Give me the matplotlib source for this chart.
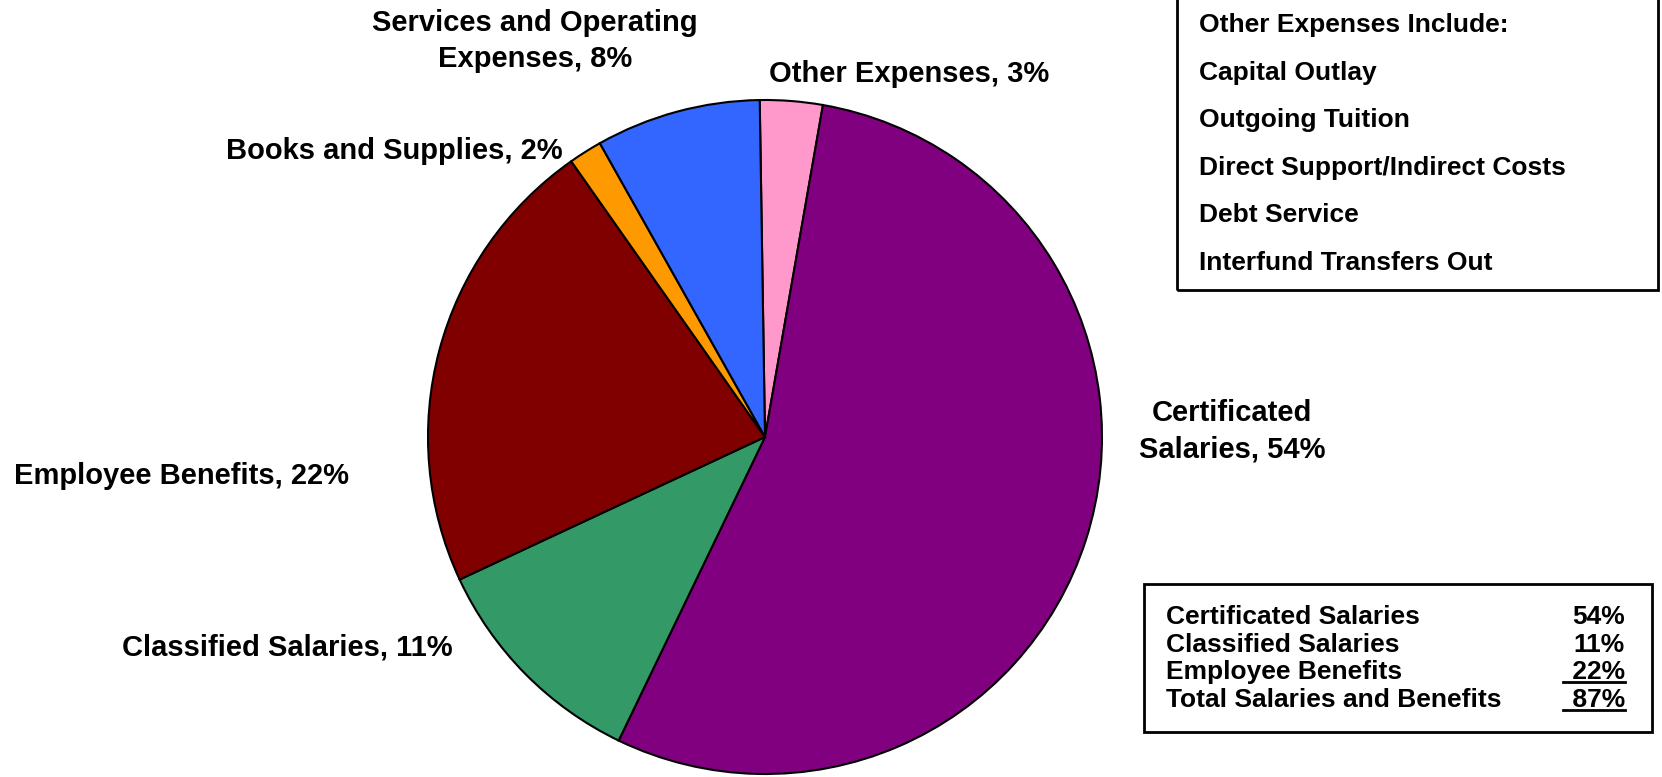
import matplotlib
matplotlib.use("Agg")
import matplotlib.pyplot as plt
from matplotlib.patches import Rectangle

# slice data, clockwise from the top
categories = ["Other Expenses", "Certificated Salaries", "Classified Salaries",
              "Employee Benefits", "Books and Supplies", "Services and Operating Expenses"]
shares = [3.0, 54.4, 10.9, 22.2, 1.6, 7.9]
colors = ["#FF99CC", "#800080", "#339966", "#800000", "#FF9900", "#3366FF"]

slice_labels = ["Other Expenses, 3%", "Certificated\nSalaries, 54%", "Classified Salaries, 11%",
                "Employee Benefits, 22%", "Books and Supplies, 2%",
                "Services and Operating\nExpenses, 8%"]

other_items = ["Other Expenses Include:", "Capital Outlay", "Outgoing Tuition",
               "Direct Support/Indirect Costs", "Debt Service", "Interfund Transfers Out"]

summary_names = ["Certificated Salaries", "Classified Salaries", "Employee Benefits",
                 "Total Salaries and Benefits"]
summary_pcts = ["54%", "11%", " 22%", " 87%"]

W, H = 1662, 777
fig = plt.figure(figsize=(W / 100, H / 100), dpi=100)
ax = fig.add_axes([0, 0, 1, 1])

ax.pie(shares, colors=colors, startangle=90.9, counterclock=False,
       center=(765, H - 437), radius=337,
       wedgeprops=dict(edgecolor="black", linewidth=1.5))
ax.set_xlim(0, W)
ax.set_ylim(0, H)
ax.set_aspect("equal")
ax.axis("off")

label_font = dict(family="Liberation Sans", fontweight="bold",
                  fontsize=21, color="black", ha="center", va="center", linespacing=1.38)
# label positions in pixel coords (x, y from top)
label_pos = [(909, 74), (1232, 431), (287, 648), (181, 476), (394, 151), (535, 41)]
for txt, (x, y) in zip(slice_labels, label_pos):
    ax.text(x, H - y, txt, **label_font)

# box listing other expenses
ax.add_patch(Rectangle((1177, H - 290), 1658 - 1177, 300, fill=False,
                       edgecolor="black", linewidth=2, clip_on=False))
for i, item in enumerate(other_items):
    ax.text(1199, H - (25 + i * 47.6), item, family="Liberation Sans", fontweight="bold",
            fontsize=19, ha="left", va="center")

# salaries summary box
ax.add_patch(Rectangle((1144, H - 732), 1652 - 1144, 732 - 584, fill=False,
                       edgecolor="black", linewidth=2))
for i, (name, pct) in enumerate(zip(summary_names, summary_pcts)):
    y = H - (617 + i * 27.7)
    ax.text(1166, y, name, family="Liberation Sans", fontweight="bold",
            fontsize=19, ha="left", va="center")
    ax.text(1625, y, pct, family="Liberation Sans", fontweight="bold",
            fontsize=19, ha="right", va="center")
    if i >= 2:
        ax.plot([1563, 1625], [y - 10, y - 10], color="black", linewidth=2)

fig.savefig("out.png", dpi=100)
